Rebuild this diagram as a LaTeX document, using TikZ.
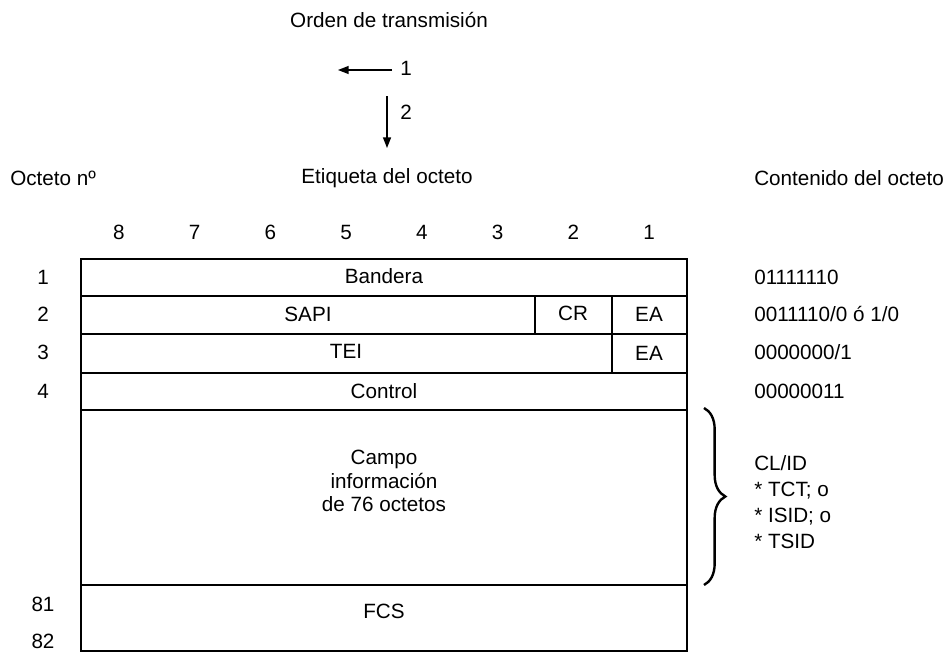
\documentclass[tikz,border=0pt]{standalone}
\usepackage{fontspec}
\setmainfont{Liberation Sans}
\usetikzlibrary{decorations.pathreplacing,arrows.meta}
\begin{document}
\begin{tikzpicture}[x=0.75pt,y=-0.75pt,
  every node/.style={font=\fontsize{15.5}{18}\selectfont, inner sep=0pt},
  box/.style={line width=1.2pt},
  arr/.style={line width=1.1pt,-{Triangle[length=8pt,width=6pt]}},
  lbl/.style={anchor=west}]
\useasboundingbox (0,0) rectangle (950,653);
% header
\node (orden) at (389,20) {Orden de transmisión};
\coordinate (a1s) at (392,70);
\coordinate (a1e) at (338,70);
\draw[arr] (a1s) -- (a1e);
\node (n1) at (406,68) {1};
\coordinate (a2s) at (387,96);
\coordinate (a2e) at (387,148);
\draw[arr] (a2s) -- (a2e);
\node (n2) at (406,112) {2};
\node[lbl] (octn) at (10,178) {Octeto nº};
\node (etq) at (387,178) {Etiqueta del octeto};
\node[lbl] (cont) at (754,178) {Contenido del octeto};
% bit numbers
\foreach \b [count=\i from 0] in {8,7,6,5,4,3,2,1}
  \node (bit\b) at ({81+75.75*(\i+0.5)},232) {\b};
% table
\draw[box] (81,259) rectangle (687,651);
\draw[box] (81,296) -- (687,296);
\draw[box] (81,334) -- (687,334);
\draw[box] (81,373) -- (687,373);
\draw[box] (81,410) -- (687,410);
\draw[box] (81,585) -- (687,585);
\draw[box] (535,296) -- (535,334);
\draw[box] (612,296) -- (612,373);
\node (band) at (384,276) {Bandera};
\node (sapi) at (308,314) {SAPI};
\node (cr) at (573,313) {CR};
\node (ea1) at (649,314) {EA};
\node (tei) at (346,351) {TEI};
\node (ea2) at (649,353) {EA};
\node (ctrl) at (384,391) {Control};
\node[align=center, font=\fontsize{15.5}{17.5}\selectfont] (campo) at (384,481) {Campo\\información\\de 76 octetos};
\node (fcs) at (384,611) {FCS};
% row numbers
\node (r1) at (43,277) {1};
\node (r2) at (43,314) {2};
\node (r3) at (43,352) {3};
\node (r4) at (43,391) {4};
\node (r81) at (43,604) {81};
\node (r82) at (43,641) {82};
% contents
\node[lbl] (c1) at (754,277) {01111110};
\node[lbl] (c2) at (754,314) {0011110/0 ó 1/0};
\node[lbl] (c3) at (754,352) {0000000/1};
\node[lbl] (c4) at (754,391) {00000011};
\node[lbl,align=left, font=\fontsize{15.5}{19.5}\selectfont] (cl) at (754,502) {CL/ID\\* TCT; o\\* ISID; o\\* TSID};
% brace
\coordinate (bt) at (704,408);
\coordinate (bb) at (704,585);
\draw[line width=1.8pt, decorate, decoration={brace, amplitude=16pt, aspect=0.5}] (bt) -- (bb);
\end{tikzpicture}
\end{document}
